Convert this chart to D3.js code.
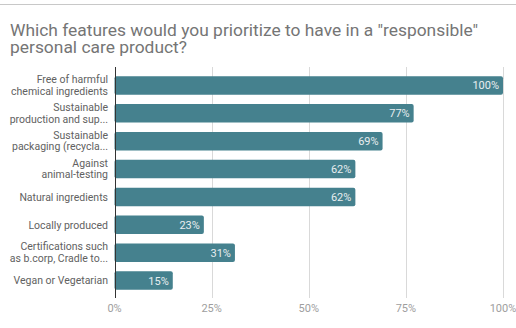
<!DOCTYPE html>
<html lang="en">
  <head>
    <meta charset="utf-8" />
    <style>
      body {
        margin: 0;
        background: #fff;
        font-family: Roboto, sans-serif;
      }
    </style>
  </head>
  <body>
    <svg id="chart" width="516" height="328"></svg>
    <script src="https://d3js.org/d3.v7.min.js"></script>
    <script>
      const titleLines = [
        'Which features would you prioritize to have in a "responsible"',
        "personal care product?"
      ];
      const categories = [
        ["Free of harmful", "chemical ingredients"],
        ["Sustainable", "production and sup..."],
        ["Sustainable", "packaging (recycla..."],
        ["Against", "animal-testing"],
        ["Natural ingredients"],
        ["Locally produced"],
        ["Certifications such", "as b.corp, Cradle to..."],
        ["Vegan or Vegetarian"]
      ];
      const values = [100, 77, 69, 62, 62, 23, 31, 15];
      const ticks = [0, 25, 50, 75, 100];

      const svg = d3.select("#chart");
      const left = 114.5;
      const right = 503;
      const gridTop = 67;
      const gridBottom = 298;

      // top border
      svg
        .append("line")
        .attr("x1", 0)
        .attr("x2", 516)
        .attr("y1", 4.5)
        .attr("y2", 4.5)
        .attr("stroke", "#c8c8c8");

      svg
        .append("g")
        .selectAll("text")
        .data(titleLines)
        .join("text")
        .attr("x", 10)
        .attr("y", (d, i) => 35.5 + i * 17)
        .attr("fill", "#757575")
        .attr("font-size", "17.4px")
        .text(d => d);

      const x = d3
        .scaleLinear()
        .domain([0, 100])
        .range([left, right]);
      const y = d3
        .scaleBand()
        .domain(d3.range(categories.length))
        .range([71.5, 294.5])
        .paddingInner(0.34)
        .paddingOuter(0.17);

      // grid
      svg
        .append("g")
        .selectAll("line")
        .data(ticks.slice(1))
        .join("line")
        .attr("x1", d => Math.round(x(d)) + 0.5)
        .attr("x2", d => Math.round(x(d)) + 0.5)
        .attr("y1", gridTop)
        .attr("y2", gridBottom)
        .attr("stroke", "#d9d9d9");

      svg
        .append("g")
        .selectAll("text")
        .data(ticks)
        .join("text")
        .attr("x", d => x(d))
        .attr("y", 312)
        .attr("text-anchor", "middle")
        .attr("fill", "#9e9e9e")
        .attr("font-size", "11px")
        .text(d => d + "%");

      // bars
      svg
        .append("g")
        .selectAll("rect")
        .data(values)
        .join("rect")
        .attr("x", x(0))
        .attr("y", (d, i) => y(i))
        .attr("width", d => x(d) - x(0))
        .attr("height", y.bandwidth())
        .attr("rx", 2)
        .attr("fill", "#45818e");

      svg
        .append("g")
        .selectAll("text")
        .data(values)
        .join("text")
        .attr("x", d => x(d) - 4)
        .attr("y", (d, i) => y(i) + y.bandwidth() / 2 + 4)
        .attr("text-anchor", "end")
        .attr("fill", "#e8eef0")
        .attr("font-size", "11px")
        .text(d => d + "%");

      // category labels
      const labels = svg
        .append("g")
        .selectAll("text")
        .data(categories)
        .join("text")
        .attr("text-anchor", "end")
        .attr("fill", "#616161")
        .attr("font-size", "10.5px")
        .attr("transform", (d, i) => {
          const cy = y(i) + y.bandwidth() / 2;
          return `translate(108,${cy + 3.7 - (d.length - 1) * 6})`;
        });
      labels
        .selectAll("tspan")
        .data(d => d)
        .join("tspan")
        .attr("x", 0)
        .attr("dy", (d, i) => (i === 0 ? 0 : 11.5))
        .text(d => d);

      // zero axis
      svg
        .append("line")
        .attr("x1", Math.round(x(0)) + 0.5)
        .attr("x2", Math.round(x(0)) + 0.5)
        .attr("y1", gridTop)
        .attr("y2", gridBottom)
        .attr("stroke", "#333");
    </script>
  </body>
</html>
